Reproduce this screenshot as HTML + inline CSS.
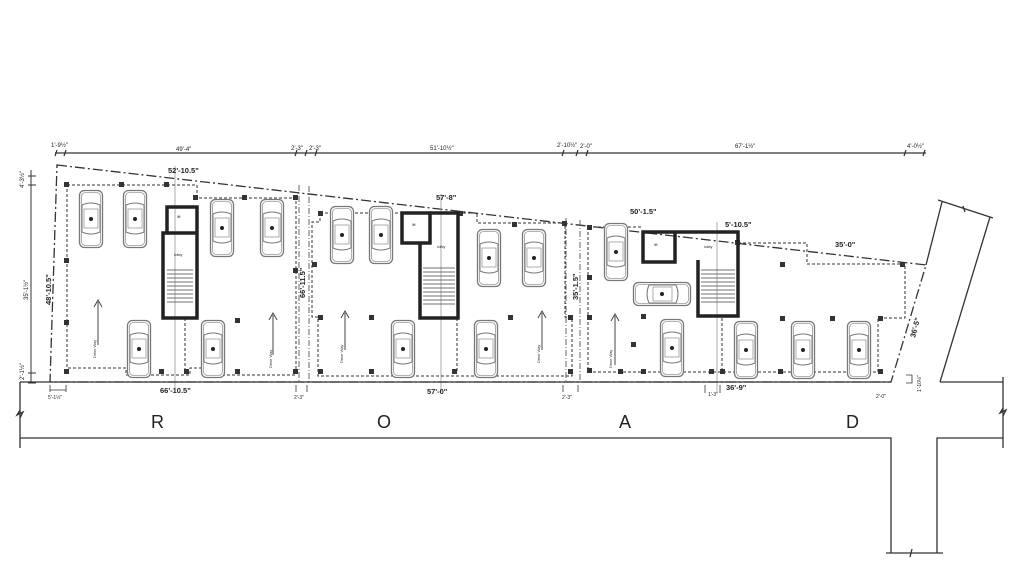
<!DOCTYPE html>
<html><head><meta charset="utf-8"><style>
html,body{margin:0;padding:0;background:#fff}
svg{display:block}
text{font-family:"Liberation Sans",sans-serif}
</style></head><body>
<svg width="1024" height="584" viewBox="0 0 1024 584" xmlns="http://www.w3.org/2000/svg">
<defs>
<symbol id="car" viewBox="-12 -29 24 58" overflow="visible">
<rect x="-11.5" y="-28.5" width="23" height="57" rx="5" fill="#fff" stroke="#777" stroke-width="1.3"/>
<rect x="-9.5" y="-26.5" width="19" height="53" rx="4" fill="none" stroke="#999" stroke-width="0.8"/>
<path d="M-9 -14 Q0 -18 9 -14 M-9 13 Q0 17 9 13 M-9 -14 V13 M9 -14 V13" fill="none" stroke="#777" stroke-width="1"/>
<rect x="-7" y="-10" width="14" height="19" fill="none" stroke="#999" stroke-width="0.8"/>
<circle cx="0" cy="0" r="2" fill="#222"/>
</symbol>
<symbol id="carh" viewBox="-29 -12 58 24" overflow="visible">
<g transform="rotate(90)"><use href="#car" x="-12" y="-29" width="24" height="58"/></g>
</symbol>
</defs>

<g stroke="#333" stroke-width="1.2" fill="none">
<line x1="55" y1="153" x2="926" y2="153"/>
<path d="M57 150 l-2 6 M66 150 l-2 6 M297 150 l-2 6 M307 150 l-2 6 M317 150 l-2 6 M564 150 l-2 6 M578 150 l-2 6 M588 150 l-2 6 M906 150 l-2 6 M925 150 l-2 6"/>
</g>
<g font-size="6" fill="#222">
<text x="51" y="147">1'-9½"</text><text x="176" y="151">49'-4"</text>
<text x="291" y="150">2'-3"</text><text x="309" y="150">2'-3"</text>
<text x="430" y="150">51'-10½"</text>
<text x="557" y="147">2'-10½"</text><text x="580" y="148">2'-0"</text>
<text x="735" y="148">67'-1½"</text><text x="907" y="148">4'-0½"</text>
</g>

<g stroke="#333" stroke-width="1" fill="none">
<line x1="31" y1="170" x2="31" y2="383"/>
<path d="M28 176 h8 M28 185 h8 M28 373 h8 M28 383 h8"/>
</g>
<g font-size="6" fill="#222">
<text transform="translate(24,188) rotate(-90)">4'-3½"</text>
<text transform="translate(28,300) rotate(-90)">35'-1½"</text>
<text transform="translate(24,380) rotate(-90)">2'-1½"</text>
</g>

<g stroke="#333" stroke-width="1.3" fill="none" stroke-dasharray="10 3 2 3">
<path d="M57 165 L926 265 L891 382 L50 382 Z"/>
</g>
<g stroke="#555" stroke-width="0.9" fill="none" stroke-dasharray="6 2 1 2">
<line x1="299" y1="185" x2="299" y2="382"/><line x1="309" y1="186" x2="309" y2="382"/>
<line x1="566" y1="218" x2="566" y2="382"/><line x1="580" y1="220" x2="580" y2="382"/>
</g>
<g stroke="#888" stroke-width="0.7"><line x1="175" y1="166" x2="175" y2="392"/><line x1="441" y1="194" x2="441" y2="392"/><line x1="717" y1="222" x2="717" y2="392"/></g>

<g stroke="#333" stroke-width="1.3" fill="none">
<line x1="20" y1="382" x2="891" y2="382"/>
<path d="M20 382 V448 M20 410 l-3 5 6 -3 -3 6"/>
<path d="M20 438 H891 V553 M937 553 V438 H1003 M940 382 H1003 M1003 377 V448 M1003 408 l-3 5 6 -3 -3 6"/>
<path d="M886 553 H943 M912 549 l-2 8"/>
<path d="M942 202 L926 265 M990 217 L940 382 M938 200 L993 218 M963 206 l2 6"/>
</g>
<g font-size="18" fill="#222">
<text x="151" y="428">R</text><text x="377" y="428">O</text><text x="619" y="428">A</text><text x="846" y="428">D</text>
</g>

<g stroke="#333" stroke-width="1" fill="none" stroke-dasharray="3 2">
<path d="M67 185 H197 V198 H296 V375 H218 V368 H190 V375 H126 V368 H67 Z"/>
<path d="M320 213 H418 M458 213 H477 V223 H565 V317 H572 V376 H318 V317 H312 V222 H320 V213"/>
<path d="M588 227 H643 M738 243 H807 V264 H905 V318 H878 V372 H588 V227"/>
<path d="M185 318 V372 M457 318 V372 M722 318 V372"/>
</g>
<g fill="#333">
<rect x="64" y="182" width="5" height="5"/><rect x="119" y="182" width="5" height="5"/><rect x="164" y="182" width="5" height="5"/>
<rect x="64" y="258" width="5" height="5"/><rect x="64" y="320" width="5" height="5"/><rect x="64" y="369" width="5" height="5"/>
<rect x="159" y="369" width="5" height="5"/><rect x="193" y="195" width="5" height="5"/><rect x="242" y="195" width="5" height="5"/>
<rect x="293" y="195" width="5" height="5"/><rect x="293" y="268" width="5" height="5"/><rect x="293" y="369" width="5" height="5"/>
<rect x="235" y="318" width="5" height="5"/><rect x="184" y="369" width="5" height="5"/><rect x="235" y="369" width="5" height="5"/>
<rect x="318" y="211" width="5" height="5"/><rect x="312" y="262" width="5" height="5"/><rect x="318" y="315" width="5" height="5"/>
<rect x="318" y="369" width="5" height="5"/><rect x="369" y="315" width="5" height="5"/><rect x="369" y="369" width="5" height="5"/>
<rect x="452" y="369" width="5" height="5"/><rect x="508" y="315" width="5" height="5"/><rect x="512" y="222" width="5" height="5"/>
<rect x="562" y="221" width="5" height="5"/><rect x="568" y="315" width="5" height="5"/><rect x="568" y="369" width="5" height="5"/>
<rect x="458" y="211" width="5" height="5"/><rect x="618" y="369" width="5" height="5"/>
<rect x="587" y="225" width="5" height="5"/><rect x="587" y="275" width="5" height="5"/><rect x="587" y="315" width="5" height="5"/>
<rect x="587" y="368" width="5" height="5"/><rect x="641" y="369" width="5" height="5"/><rect x="641" y="314" width="5" height="5"/>
<rect x="709" y="369" width="5" height="5"/><rect x="780" y="316" width="5" height="5"/><rect x="780" y="262" width="5" height="5"/>
<rect x="830" y="316" width="5" height="5"/><rect x="900" y="262" width="5" height="5"/><rect x="878" y="316" width="5" height="5"/>
<rect x="778" y="369" width="5" height="5"/><rect x="878" y="369" width="5" height="5"/><rect x="735" y="240" width="5" height="5"/>
<rect x="720" y="369" width="5" height="5"/><rect x="631" y="342" width="5" height="5"/>
</g>

<g fill="none" stroke="#222" stroke-width="3.5">
<path d="M167 207 H197 V318 H163 V233 H167 Z"/><path d="M167 233 H197"/>
<path d="M402 213 H430 V243 H402 Z"/><path d="M420 243 V318 H458 V213 H430"/>
<path d="M643 232 V262 H675 V232 Z M675 232 H738 V316 H698 V260"/>
</g>
<g stroke="#444" stroke-width="0.7">
<path d="M167 270 H193 M167 274 H193 M167 278 H193 M167 282 H193 M167 286 H193 M167 290 H193 M167 294 H193 M167 298 H193 M167 302 H193"/>
<path d="M423 268 H455 M423 272 H455 M423 276 H455 M423 280 H455 M423 284 H455 M423 288 H455 M423 292 H455 M423 296 H455 M423 300 H455 M423 304 H455"/>
<path d="M701 270 H735 M701 274 H735 M701 278 H735 M701 282 H735 M701 286 H735 M701 290 H735 M701 294 H735 M701 298 H735 M701 302 H735"/>
</g>
<g font-size="3.5" fill="#222">
<text x="177" y="218">lift</text><text x="174" y="256">lobby</text>
<text x="412" y="226">lift</text><text x="437" y="248">lobby</text>
<text x="654" y="246">lift</text><text x="704" y="248">lobby</text>
</g>

<g>
<use href="#car" x="79" y="190" width="24" height="58"/>
<use href="#car" x="123" y="190" width="24" height="58"/>
<use href="#car" x="210" y="199" width="24" height="58"/>
<use href="#car" x="260" y="199" width="24" height="58"/>
<use href="#car" x="127" y="320" width="24" height="58"/>
<use href="#car" x="201" y="320" width="24" height="58"/>
<use href="#car" x="330" y="206" width="24" height="58"/>
<use href="#car" x="369" y="206" width="24" height="58"/>
<use href="#car" x="477" y="229" width="24" height="58"/>
<use href="#car" x="522" y="229" width="24" height="58"/>
<use href="#car" x="391" y="320" width="24" height="58"/>
<use href="#car" x="474" y="320" width="24" height="58"/>
<use href="#car" x="604" y="223" width="24" height="58"/>
<use href="#carh" x="633" y="282" width="58" height="24"/>
<use href="#car" x="660" y="319" width="24" height="58"/>
<use href="#car" x="734" y="321" width="24" height="58"/>
<use href="#car" x="791" y="321" width="24" height="58"/>
<use href="#car" x="847" y="321" width="24" height="58"/>
</g>

<g stroke="#444" stroke-width="1" fill="none">
<path d="M98 345 V302 M94 307 L98 300 L102 307"/>
<path d="M273 355 V315 M269 320 L273 313 L277 320"/>
<path d="M345 350 V313 M341 318 L345 311 L349 318"/>
<path d="M542 350 V313 M538 318 L542 311 L546 318"/>
<path d="M615 365 V316 M611 321 L615 314 L619 321"/>
</g>
<g font-size="4" fill="#333">
<text transform="translate(96,358) rotate(-90)">Drive Way</text>
<text transform="translate(272,368) rotate(-90)">Drive Way</text>
<text transform="translate(343,363) rotate(-90)">Drive Way</text>
<text transform="translate(540,363) rotate(-90)">Drive Way</text>
<text transform="translate(612,368) rotate(-90)">Drive Way</text>
</g>

<g font-size="7.5" font-weight="bold" fill="#222">
<text x="168" y="173">52'-10.5"</text>
<text x="160" y="393">66'-10.5"</text>
<text x="436" y="200">57'-8"</text>
<text x="427" y="394">57'-0"</text>
<text x="630" y="214">50'-1.5"</text>
<text x="725" y="227">5'-10.5"</text>
<text x="835" y="247">35'-0"</text>
<text x="726" y="390">36'-9"</text>
<text transform="translate(51,305) rotate(-90)">48'-10.5"</text>
<text transform="translate(305,298) rotate(-90)">66'-11.5"</text>
<text transform="translate(578,300) rotate(-90)">35'-1.5"</text>
<text transform="translate(915,338) rotate(-75)">36'-5"</text>
</g>
<g font-size="5" fill="#222">
<text x="48" y="399">5'-1½"</text><text x="294" y="399">2'-3"</text><text x="562" y="399">2'-3"</text>
<text x="708" y="396">1'-3"</text><text x="876" y="398">2'-0"</text>
<text transform="translate(921,392) rotate(-90)">1'-10½"</text>
</g>
<g stroke="#333" stroke-width="0.8" fill="none">
<path d="M50 385 V392 M66 385 V392 M50 390 H66 M296 385 V392 M307 385 V392 M563 385 V392 M578 385 V392 M705 385 V393 M720 385 V393 M906 375 H912 V383 H906"/>
</g>
</svg>
</body></html>
